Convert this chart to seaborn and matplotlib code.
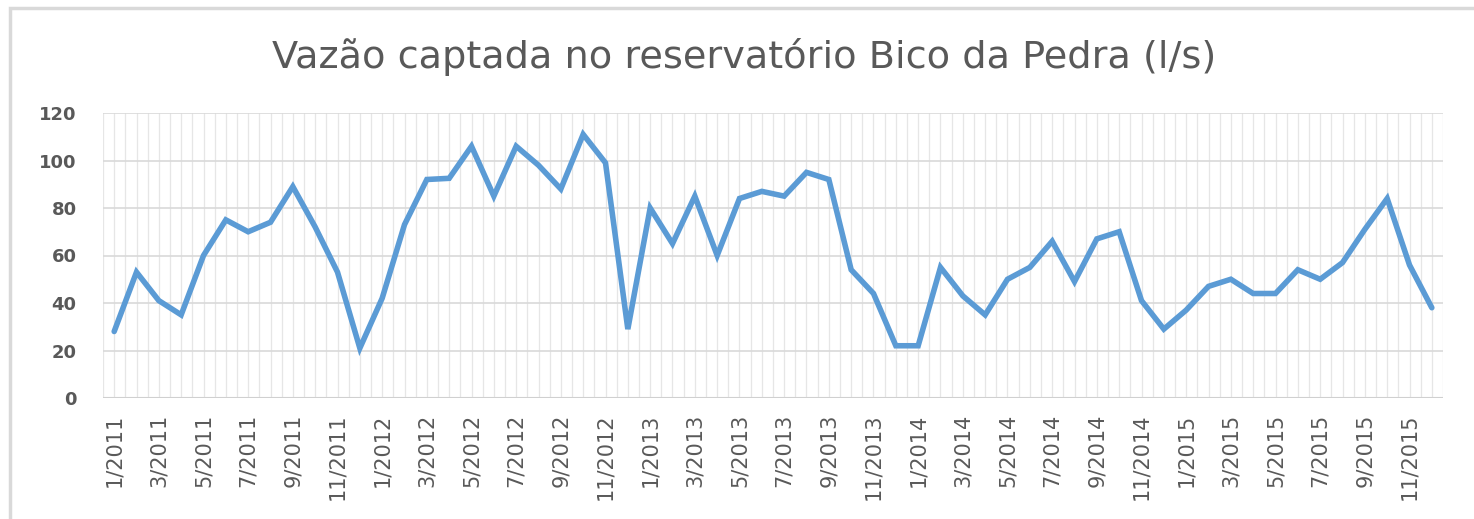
import matplotlib
matplotlib.use("Agg")
import matplotlib.pyplot as plt
import seaborn as sns
import pandas as pd
import numpy as np
from matplotlib.patches import Rectangle

title = "Vazão captada no reservatório Bico da Pedra (l/s)"
years = [2011, 2012, 2013, 2014, 2015]
months = [f"{m}/{y}" for y in years for m in range(1, 13)]
vazao = [28, 53, 41, 35, 60, 75, 70, 74, 89, 72, 53, 21,
         42, 73, 92, 92.5, 106, 85, 106, 98, 88, 111, 99, 29,
         80, 65, 85, 60, 84, 87, 85, 95, 92, 54, 44, 22,
         22, 55, 43, 35, 50, 55, 66, 49, 67, 70, 41, 29,
         37, 47, 50, 44, 44, 54, 50, 57, 71, 84, 56, 38]
y_ticks = [0, 20, 40, 60, 80, 100, 120]

df = pd.DataFrame({"mes": months, "idx": np.arange(len(months)), "vazao": vazao})

sns.set_theme(style="white")
plt.rcParams['font.family'] = ['DejaVu Sans']

fig = plt.figure(figsize=(14.74, 5.19), dpi=100)
W, H = 1474, 519
ax = fig.add_axes([103 / W, 1 - 398 / H, (1443 - 103) / W, (398 - 113) / H])

# figure border (left and top visible)
fig.patches.append(Rectangle((10 / W, -0.1), 2, (1 - 8 / H) + 0.1, transform=fig.transFigure,
                             fill=False, edgecolor="#D9D9D9", linewidth=2.5, zorder=0))

sns.lineplot(data=df, x="idx", y="vazao", ax=ax, color="#5B9BD5", linewidth=4,
             solid_joinstyle="miter", zorder=3)

n = len(months)
ax.set_xlim(-0.5, n - 0.5)
ax.set_ylim(0, 120)
ax.set_yticks(y_ticks)
ax.set_yticklabels([str(t) for t in y_ticks], fontsize=13, fontweight="bold", color="#595959")
ax.set_xticks(df["idx"][::2])
ax.set_xticklabels(df["mes"][::2], rotation=90, fontsize=15, color="#595959")
ax.tick_params(axis="y", length=0, pad=19)
ax.tick_params(axis="x", length=0, pad=11)

# gridlines
for t in y_ticks[1:]:
    ax.axhline(t, color="#D9D9D9", linewidth=1.2, zorder=1)
for xv in np.arange(-0.5, n - 0.4, 0.5):
    ax.axvline(xv, color="#E6E6E6", linewidth=0.9, zorder=0.5)
ax.axhline(0, color="#D0D0D0", linewidth=1.5, zorder=2)

for s in ax.spines.values():
    s.set_visible(False)
ax.set_xlabel("")
ax.set_ylabel("")

fig.text(744 / W, 1 - 57 / H, title, ha="center", va="center", fontsize=27.5, color="#595959")

fig.savefig("out.png", dpi=100, facecolor="white")
